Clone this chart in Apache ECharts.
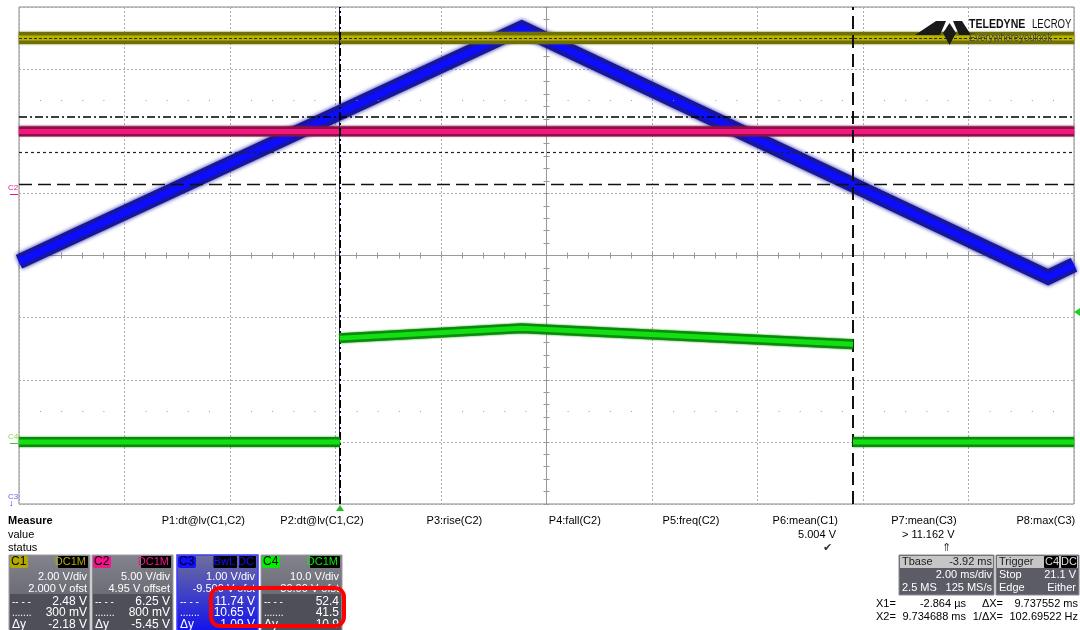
<!DOCTYPE html>
<html>
<head>
<meta charset="utf-8">
<script src="https://cdn.jsdelivr.net/npm/echarts@6/dist/echarts.min.js"></script>
<style>
  html, body { margin: 0; padding: 0; background: #fff; }
  #scope { width: 1080px; height: 630px; }
</style>
</head>
<body>
<div id="scope"></div>
<script>
// trace readings (time in ms, volts per channel)
const timeC1 = [-6.08, 13.92];
const voltC1 = [5.00, 5.00];
const timeC2 = [-6.08, 13.92];
const voltC2 = [5.03, 5.03];
const timeC3 = [-6.08, 3.45, 13.43, 13.92];
const voltC3 = [9.40, 13.16, 9.15, 9.35];
const timeC4 = [-6.08, 0.00, 0.00, 0.00, 3.45, 9.73, 9.73, 9.73, 13.92];
const voltC4 = [0.0, 0.0, '-', 16.7, 18.3, 15.7, '-', 0.0, 0.0];

// cursors / measurement levels
const cursorX1 = -0.002864;
const cursorX2 = 9.734688;
const cursorLevelsC3 = [11.74, 10.65];
const meanC1 = 5.004;
const meanC3 = 11.162;

// channel panel texts
const chanNames = ['C1', 'C2', 'C3', 'C4'];
const chanCoupling = [['DC1M'], ['DC1M'], ['BwL', 'DC'], ['DC1M']];
const chanScale = ['2.00 V/div', '5.00 V/div', '1.00 V/div', '10.0 V/div'];
const chanOffset = ['2.000 V ofst', '4.95 V offset', '-9.500 V ofst', '-30.00 V ofst'];
const cursorA = ['2.48 V', '6.25 V', '11.74 V', '52.4'];
const cursorB = ['300 mV', '800 mV', '10.65 V', '41.5'];
const cursorD = ['-2.18 V', '-5.45 V', '-1.09 V', '-10.9'];
const paramNames = ['P1:dt@lv(C1,C2)', 'P2:dt@lv(C1,C2)', 'P3:rise(C2)', 'P4:fall(C2)',
    'P5:freq(C2)', 'P6:mean(C1)', 'P7:mean(C3)', 'P8:max(C3)'];
const paramValues = ['', '', '', '', '', '5.004 V', '> 11.162 V', ''];
const paramStatus = ['', '', '', '', '', '\u2714', '\u21D1', ''];

const FONT = '"Liberation Sans", Arial, sans-serif';
const chanColor = ['#b2aa00', '#f0158a', '#1010ff', '#00ee00'];

function pairs(t, v) {
    return t.map((x, i) => [x, v[i]]);
}

function band(name, t, v, yIdx, outer, inner, wOut, wIn, z, blur) {
    const data = pairs(t, v);
    const base = { type: 'line', xAxisIndex: 2, yAxisIndex: yIdx, showSymbol: false, symbol: 'none',
        silent: true, data: data, connectNulls: false };
    return [
        Object.assign({}, base, { name: name + '-edge', z: z,
            lineStyle: { color: outer, width: wOut, join: 'miter', cap: 'butt',
                shadowColor: outer, shadowBlur: blur } }),
        Object.assign({}, base, { name: name, z: z + 0.5,
            lineStyle: { color: inner, width: wIn, join: 'miter', cap: 'butt' } })
    ];
}

function txt(x, y, s, o) {
    o = o || {};
    return {
        type: 'text', x: x, y: y, z: 100, silent: true,
        style: {
            text: s, fill: o.fill || '#000',
            font: (o.weight || 'normal') + ' ' + (o.size || 11) + 'px ' + FONT,
            align: o.align || 'left', textAlign: o.align || 'left',
            verticalAlign: 'middle', textVerticalAlign: 'middle'
        }
    };
}

function rect(x, y, w, h, fill, o) {
    o = o || {};
    return {
        type: 'rect', z: o.z || 90, silent: true,
        shape: { x: x, y: y, width: w, height: h, r: o.r || 0 },
        style: { fill: fill, stroke: o.stroke || null, lineWidth: o.lw || 0 }
    };
}

const graphics = [];

// measure area
graphics.push(txt(8, 521, 'Measure', { weight: 'bold' }));
graphics.push(txt(8, 535, 'value'));
graphics.push(txt(8, 548, 'status'));
paramNames.forEach((p, i) => {
    const rx = 245 + 118.6 * i;
    graphics.push(txt(rx, 521, p, { align: 'right' }));
    if (paramValues[i]) graphics.push(txt(rx - 2, 535, paramValues[i], { align: 'right' }));
    if (paramStatus[i]) graphics.push(txt(rx - 6, 548, paramStatus[i], { align: 'right', fill: '#333' }));
});

// channel boxes
const boxX = [9, 92, 177, 261];
chanNames.forEach((c, i) => {
    const x = boxX[i], w = 81, right = x + w - 3;
    if (i === 2) {
        graphics.push(rect(x, 555, w, 80, new echarts.graphic.LinearGradient(0, 0, 0, 1, [
            { offset: 0, color: '#70709a' }, { offset: 0.45, color: '#4444c4' }, { offset: 1, color: '#0d0df2' }
        ]), { stroke: '#3a3aff', lw: 1.5 }));
    } else {
        graphics.push(rect(x, 555, w, 80, new echarts.graphic.LinearGradient(0, 0, 0, 1, [
            { offset: 0, color: '#84848e' }, { offset: 0.45, color: '#6e6e78' }, { offset: 1, color: '#60606a' }
        ]), { stroke: '#9a9aa2', lw: 1 }));
        graphics.push(rect(x + 1, 594, w - 2, 40, '#4f4f5a'));
    }
    // name badge
    graphics.push(rect(x + 1, 556, 18, 12, chanColor[i], { r: 2, z: 91 }));
    graphics.push(txt(x + 2, 562, c, { size: 12, fill: '#000' }));
    // coupling badges
    let bx = right;
    chanCoupling[i].slice().reverse().forEach((b) => {
        const bw = b.length * 6.5 + 3;
        graphics.push(rect(bx - bw, 556, bw + 1, 12, '#000', { r: 1, z: 91 }));
        graphics.push(txt(bx - 1, 562, b, { align: 'right', fill: chanColor[i] }));
        bx -= bw + 3;
    });
    graphics.push(txt(right, 577, chanScale[i], { align: 'right', fill: '#fff' }));
    graphics.push(txt(right, 589, chanOffset[i], { align: 'right', fill: '#fff' }));
    graphics.push(txt(x + 3, 602, '-- - -', { fill: '#fff', size: 10 }));
    graphics.push(txt(right, 602, cursorA[i], { align: 'right', fill: '#fff', size: 12 }));
    graphics.push(txt(x + 3, 613, '.......', { fill: '#fff', size: 10 }));
    graphics.push(txt(right, 613, cursorB[i], { align: 'right', fill: '#fff', size: 12 }));
    graphics.push(txt(x + 3, 625, '\u0394y', { fill: '#fff', size: 12 }));
    graphics.push(txt(right, 625, cursorD[i], { align: 'right', fill: '#fff', size: 12 }));
});

// red highlight
graphics.push({
    type: 'rect', z: 110, silent: true,
    shape: { x: 211, y: 588, width: 133, height: 38, r: 9 },
    style: { fill: null, stroke: '#ff0000', lineWidth: 4 }
});

// timebase box
graphics.push(rect(899, 555, 95, 40, '#5c5c66', { stroke: '#8a8a92', lw: 1 }));
graphics.push(rect(900, 556, 93, 12, '#c6c6c6', { z: 91 }));
graphics.push(txt(902, 562, 'Tbase', { fill: '#222' }));
graphics.push(txt(992, 562, '-3.92 ms', { fill: '#222', align: 'right' }));
graphics.push(txt(992, 575, '2.00 ms/div', { fill: '#fff', align: 'right' }));
graphics.push(txt(902, 588, '2.5 MS', { fill: '#fff' }));
graphics.push(txt(992, 588, '125 MS/s', { fill: '#fff', align: 'right' }));

// trigger box
graphics.push(rect(996, 555, 83, 40, '#5c5c66', { stroke: '#8a8a92', lw: 1 }));
graphics.push(rect(997, 556, 81, 12, '#c6c6c6', { z: 91 }));
graphics.push(txt(999, 562, 'Trigger', { fill: '#222' }));
graphics.push(rect(1044, 556, 15, 12, '#000', { z: 92, r: 1 }));
graphics.push(txt(1052, 562, 'C4', { fill: '#ddd', align: 'center' }));
graphics.push(rect(1061, 556, 16, 12, '#000', { z: 92, r: 1 }));
graphics.push(txt(1069, 562, 'DC', { fill: '#ddd', align: 'center' }));
graphics.push(txt(999, 575, 'Stop', { fill: '#fff' }));
graphics.push(txt(1076, 575, '21.1 V', { fill: '#fff', align: 'right' }));
graphics.push(txt(999, 588, 'Edge', { fill: '#fff' }));
graphics.push(txt(1076, 588, 'Either', { fill: '#fff', align: 'right' }));

// cursor readout
graphics.push(txt(876, 604, 'X1='));
graphics.push(txt(966, 604, '-2.864 \u00B5s', { align: 'right' }));
graphics.push(txt(1003, 604, '\u0394X=', { align: 'right' }));
graphics.push(txt(1078, 604, '9.737552 ms', { align: 'right' }));
graphics.push(txt(876, 617, 'X2='));
graphics.push(txt(966, 617, '9.734688 ms', { align: 'right' }));
graphics.push(txt(1003, 617, '1/\u0394X=', { align: 'right' }));
graphics.push(txt(1078, 617, '102.69522 Hz', { align: 'right' }));

// logo
graphics.push({ type: 'polygon', z: 100, silent: true,
    shape: { points: [[915, 35], [936, 21], [946, 21], [940, 35]] }, style: { fill: '#1a1a1a' } });
graphics.push({ type: 'polygon', z: 100, silent: true,
    shape: { points: [[959, 35], [953, 21], [962, 21], [971, 35]] }, style: { fill: '#1a1a1a' } });
graphics.push({ type: 'polygon', z: 101, silent: true,
    shape: { points: [[943, 33], [949.5, 23], [956, 33], [949.5, 45]] }, style: { fill: '#1a1a1a' } });
graphics.push({ type: 'text', x: 969, y: 25, z: 100, silent: true, scaleX: 0.88,
    style: { text: 'TELEDYNE', fill: '#111', font: 'bold 12px ' + FONT, verticalAlign: 'middle', textVerticalAlign: 'middle' } });
graphics.push({ type: 'text', x: 1032, y: 25, z: 100, silent: true, scaleX: 0.8,
    style: { text: 'LECROY', fill: '#111', font: '12px ' + FONT, verticalAlign: 'middle', textVerticalAlign: 'middle' } });
graphics.push({ type: 'text', x: 969, y: 38, z: 100, silent: true, scaleX: 0.95,
    style: { text: 'Everywhereyoulook', fill: '#444', font: '10px ' + FONT, verticalAlign: 'middle', textVerticalAlign: 'middle' } });

// channel ground markers and trigger markers
graphics.push(txt(8, 188, 'C2', { size: 8, fill: '#f0158a' }));
graphics.push(rect(10, 194, 8, 1, '#f0158a'));
graphics.push(txt(8, 437, 'C4', { size: 8, fill: '#80e040' }));
graphics.push(rect(10, 443, 8, 1, '#40c040'));
graphics.push(txt(8, 497, 'C3', { size: 8, fill: '#6060ff' }));
graphics.push(txt(9, 504, '\u2193', { size: 9, fill: '#2020ff' }));
graphics.push({ type: 'polygon', z: 100, silent: true,
    shape: { points: [[340, 505], [336, 511], [344, 511]] }, style: { fill: '#20c020' } });
graphics.push({ type: 'polygon', z: 100, silent: true,
    shape: { points: [[1074, 312], [1080, 308], [1080, 316]] }, style: { fill: '#20d020' } });

const gridAxisCommon = {
    type: 'value',
    axisLabel: { show: false },
    axisLine: { show: true, onZero: true, onZeroAxisIndex: 0, lineStyle: { color: '#999', width: 1 } },
    minorTick: { show: true, splitNumber: 5, length: 3, lineStyle: { color: '#999' } },
    minorSplitLine: { show: false }
};

function divAxis(min, max, inside, split, extra) {
    return Object.assign({}, gridAxisCommon, {
        min: min, max: max, interval: 1,
        axisTick: { show: true, inside: inside, length: 3, lineStyle: { color: '#999' } },
        splitLine: { show: split, lineStyle: { color: '#aaa', type: [2, 2], width: 1 } }
    }, extra);
}

const dashDot = [8, 3, 2, 3];
const longDash = [13, 6];

const series = [].concat(
    band('C3', timeC3, voltC3, 4, '#16169e', '#0c0cff', 15, 7, 2, 4),
    band('C1', timeC1, voltC1, 2, '#70700a', '#bab400', 12, 5, 3, 2),
    band('C2', timeC2, voltC2, 3, '#8a1045', '#f2167f', 10, 5, 4, 2),
    band('C4', timeC4, voltC4, 5, '#0b8a0b', '#12e012', 10, 5, 5, 2),
    [
        {
            type: 'line', name: 'grid-dots', xAxisIndex: 0, yAxisIndex: 0, data: [], silent: true, z: 1,
            markLine: {
                silent: true, symbol: ['none', 'none'], label: { show: false },
                lineStyle: { color: '#999', width: 1, type: [1, 20.1] },
                data: [{ yAxis: 2.5 }, { yAxis: -2.5 }]
            }
        },
        {
            type: 'line', name: 'C1 mean', xAxisIndex: 2, yAxisIndex: 2, data: [], silent: true, z: 8,
            markLine: {
                silent: true, symbol: ['none', 'none'], label: { show: false },
                data: [{ yAxis: meanC1, lineStyle: { color: '#2a2a10', width: 1, type: [3, 2] } }]
            }
        },
        {
            type: 'line', name: 'cursors', xAxisIndex: 2, yAxisIndex: 4, data: [], silent: true, z: 9,
            markLine: {
                silent: true, symbol: ['none', 'none'], label: { show: false },
                data: [
                    { xAxis: cursorX1, lineStyle: { color: '#1c1c80', width: 1, type: 'solid' } },
                    { xAxis: cursorX1, lineStyle: { color: '#000', width: 2, type: dashDot } },
                    { xAxis: cursorX2, lineStyle: { color: '#111', width: 2, type: longDash } },
                    { yAxis: cursorLevelsC3[0], lineStyle: { color: '#000', width: 1.5, type: dashDot } },
                    { yAxis: cursorLevelsC3[1], lineStyle: { color: '#111', width: 1.3, type: longDash } },
                    { yAxis: meanC3, lineStyle: { color: '#222', width: 1.2, type: [3, 3] } }
                ]
            }
        }
    ]
);

const chart = echarts.init(document.getElementById('scope'), null, { renderer: 'canvas' });
chart.setOption({
    animation: false,
    backgroundColor: '#fff',
    grid: { left: 19, right: 6, top: 7, bottom: 126, show: true, borderColor: '#888', borderWidth: 1, backgroundColor: 'transparent' },
    xAxis: [
        divAxis(-5, 5, true, true, { position: 'bottom' }),
        divAxis(-5, 5, false, false, { position: 'bottom' }),
        { type: 'value', show: false, min: -6.08, max: 13.92 }
    ],
    yAxis: [
        divAxis(-4, 4, true, true, { position: 'left' }),
        divAxis(-4, 4, false, false, { position: 'left' }),
        { type: 'value', show: false, min: -10, max: 6 },          // C1 2 V/div, 2.000 V ofst
        { type: 'value', show: false, min: -24.95, max: 15.05 },   // C2 5 V/div, 4.95 V offset
        { type: 'value', show: false, min: 5.5, max: 13.5 },       // C3 1 V/div, -9.5 V ofst
        { type: 'value', show: false, min: -10, max: 70 }          // C4 10 V/div, -30 V ofst
    ],
    series: series,
    graphic: { elements: graphics }
});
</script>
</body>
</html>
